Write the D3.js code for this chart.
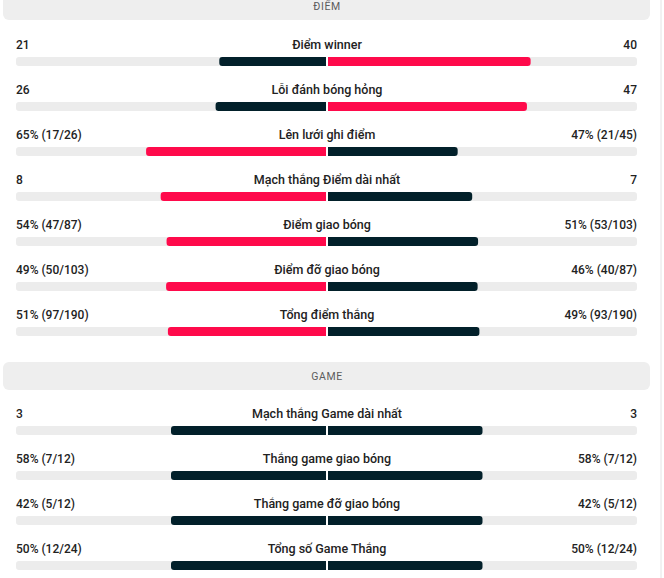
<!DOCTYPE html>
<html lang="vi">
<head>
<meta charset="utf-8"/>
<title>Thống kê trận đấu</title>
<script src="https://cdn.jsdelivr.net/npm/d3@7"></script>
<style>
  body { margin: 0; background: #fff; }
  svg { display: block; font-family: Roboto, "Noto Sans", sans-serif; }
</style>
</head>
<body>
<svg id="chart"></svg>
<script>

// section titles
const sectionTitles = ["ĐIỂM", "GAME"]

// point section
const pointStats = ["Điểm winner", "Lỗi đánh bóng hỏng", "Lên lưới ghi điểm", "Mạch thắng Điểm dài nhất", "Điểm giao bóng", "Điểm đỡ giao bóng", "Tổng điểm thắng"]
const pointHome = [21, 26, 65, 8, 54, 49, 51]
const pointAway = [40, 47, 47, 7, 51, 46, 49]
const pointHomeText = ["21", "26", "65% (17/26)", "8", "54% (47/87)", "49% (50/103)", "51% (97/190)"]
const pointAwayText = ["40", "47", "47% (21/45)", "7", "51% (53/103)", "46% (40/87)", "49% (93/190)"]

// game section
const gameStats = ["Mạch thắng Game dài nhất", "Thắng game giao bóng", "Thắng game đỡ giao bóng", "Tổng số Game Thắng"]
const gameHome = [3, 58, 42, 50]
const gameAway = [3, 58, 42, 50]
const gameHomeText = ["3", "58% (7/12)", "42% (5/12)", "50% (12/24)"]
const gameAwayText = ["3", "58% (7/12)", "42% (5/12)", "50% (12/24)"]

const width = 664
const height = 578
const red = "#ff0a4b"
const dark = "#02202a"
const track = "#ececec"

const svg = d3.select('#chart')
  .attr('width', width)
  .attr('height', height)
  .attr('viewBox', `0 0 ${width} ${height}`)

// thin divider on the right edge
svg.append('line')
  .attr('x1', 661).attr('x2', 661)
  .attr('y1', 0).attr('y2', height)
  .attr('stroke', '#e4e4e4')
  .attr('stroke-width', 1)

const left = 16, right = 637, mid = 327, gap = 1
const barH = 9

// bar with rounded outer end only
function halfBar(x0, x1, y, outerLeft){
  const r = 3
  const w = x1 - x0
  if (w <= 0) return ''
  const rr = Math.min(r, w)
  if (outerLeft) {
    return `M${x1},${y} L${x0+rr},${y} Q${x0},${y} ${x0},${y+rr} L${x0},${y+barH-rr} Q${x0},${y+barH} ${x0+rr},${y+barH} L${x1},${y+barH} Z`
  }
  return `M${x0},${y} L${x1-rr},${y} Q${x1},${y} ${x1},${y+rr} L${x1},${y+barH-rr} Q${x1},${y+barH} ${x1-rr},${y+barH} L${x0},${y+barH} Z`
}

function header(title, top){
  svg.append('rect')
    .attr('x', 3).attr('y', top)
    .attr('width', 647).attr('height', 28)
    .attr('rx', 6)
    .attr('fill', '#eeeeee')
  svg.append('text')
    .attr('x', mid).attr('y', top + 14)
    .attr('dy', '0.35em')
    .attr('text-anchor', 'middle')
    .attr('font-size', 10.5)
    .attr('letter-spacing', 0.6)
    .attr('fill', '#5c5c5c')
    .text(title)
}

function section(stats, home, away, homeText, awayText, firstBar){
  const y = d3.scaleLinear().domain([0, 1]).range([firstBar, firstBar + 45])
  const g = svg.append('g')

  stats.forEach((name, i) => {
    const top = y(i)
    const total = home[i] + away[i]
    const lx = d3.scaleLinear().domain([0, total]).range([mid - gap, left])
    const rx = d3.scaleLinear().domain([0, total]).range([mid + gap, right])
    const homeCol = home[i] > away[i] ? red : dark
    const awayCol = away[i] > home[i] ? red : dark

    // tracks
    g.append('path').attr('d', halfBar(lx(total), lx(0), top, true)).attr('fill', track)
    g.append('path').attr('d', halfBar(rx(0), rx(total), top, false)).attr('fill', track)
    // values
    g.append('path').attr('d', halfBar(lx(home[i]), lx(0), top, true)).attr('fill', homeCol)
    g.append('path').attr('d', halfBar(rx(0), rx(away[i]), top, false)).attr('fill', awayCol)

    const ty = top - 8.5
    g.append('text').attr('x', left).attr('y', ty)
      .attr('font-size', 12).attr('fill', '#222').attr('font-weight', 500)
      .text(homeText[i])
    g.append('text').attr('x', right).attr('y', ty)
      .attr('text-anchor', 'end')
      .attr('font-size', 12).attr('fill', '#222').attr('font-weight', 500)
      .text(awayText[i])
    g.append('text').attr('x', mid).attr('y', ty)
      .attr('text-anchor', 'middle')
      .attr('font-size', 12.5).attr('fill', '#222').attr('font-weight', 500)
      .text(name)
  })
}

header(sectionTitles[0], -8)
section(pointStats, pointHome, pointAway, pointHomeText, pointAwayText, 57)
header(sectionTitles[1], 362)
section(gameStats, gameHome, gameAway, gameHomeText, gameAwayText, 426)

</script>
</body>
</html>
